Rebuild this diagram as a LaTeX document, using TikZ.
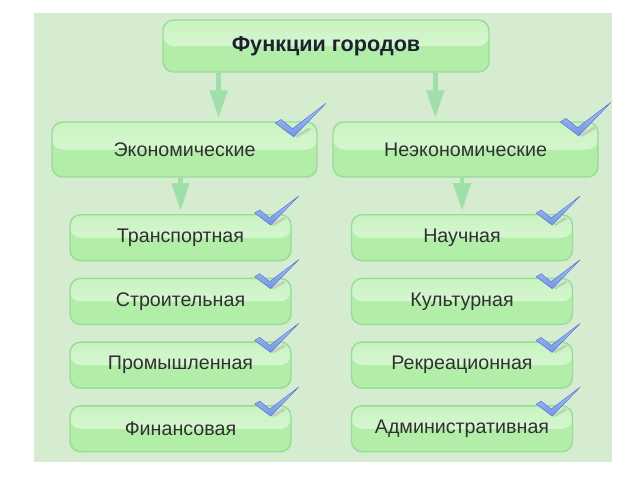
\documentclass[tikz,border=0pt]{standalone}
\usepackage{fontspec}
\setmainfont{Liberation Sans}
\usepackage{tikz}
\usetikzlibrary{arrows.meta,calc}
\definecolor{bgc}{HTML}{D5ECD1}
\definecolor{boxlow}{HTML}{B2EEA8}
\definecolor{boxhi}{HTML}{E4FAE0}
\definecolor{boxtopc}{HTML}{C8F3C0}
\definecolor{boxedge}{HTML}{9ADB98}
\definecolor{arrc}{HTML}{A0DEAA}
\definecolor{txt}{HTML}{303030}
\definecolor{ttl}{HTML}{1C2230}
\definecolor{tickhi}{HTML}{B0C8F8}
\definecolor{ticklo}{HTML}{7494E6}
\definecolor{tickedge}{HTML}{5878D4}
\tikzset{
	tick/.pic={
		\fill[black!30,opacity=0.5] (1,2) -- (13,-5) -- (15,-3) -- (3,4) -- cycle;
		\shade[top color=tickhi,bottom color=ticklo,draw=tickedge,line width=0.3pt]
		(-16,-9) -- (-11,-12) -- (-1,-4) -- (28,-26) -- (0,3) -- cycle;
	}
}

\begin{document}
\begin{tikzpicture}
	[x=0.02cm,y=-0.02cm,
	bx/.style={draw=boxedge,line width=0.8pt,rounded corners=6pt,fill=boxlow,text=txt,
		path picture={\fill[top color=boxtopc,bottom color=boxhi] (path picture bounding box.north west) rectangle (path picture bounding box.east);}},
	lone/.style={bx,minimum width=5.3cm,minimum height=1.1cm},
	ltwo/.style={bx,minimum width=4.42cm,minimum height=0.92cm},
	arr/.style={draw=arrc,line width=2.8pt,-{Triangle[width=0.34cm,length=0.56cm]},shorten >=0.06cm},
	font=\fontsize{11.2}{13}\selectfont]
	\useasboundingbox (0,0) rectangle (640,480);
	\fill[bgc] (34,13) rectangle (612,462);
	%LEVEL 0
	\node[bx,minimum width=6.52cm,minimum height=1.04cm,text=ttl,font=\fontsize{12.3}{14}\selectfont\bfseries] (f0) at (326,46) {Функции городов};
	%LEVEL 1
	\node[lone] (e0) at (184.5,149.5) {Экономические};
	\node[lone] (n0) at (465.5,149.5) {Неэкономические};
	\coordinate (t1) at ($(f0.south west)!0.172!(f0.south east)$);
	\coordinate (t2) at ($(f0.south west)!0.834!(f0.south east)$);
	\draw[arr] (t1) -- (t1 |- e0.north);
	\draw[arr] (t2) -- (t2 |- n0.north);
	\pic[scale=1.15] at ([shift={(-24,12)}]e0.north east) {tick};
	\pic[scale=1.15] at ([shift={(-20,11)}]n0.north east) {tick};
	%LEVEL 2
	\foreach \t [count=\i] in {Транспортная,Строительная,Промышленная,Финансовая}
	\node[ltwo] (e\i) at (180.5,{174+63.7*\i}) {\t};
	\foreach \t [count=\i] in {Научная,Культурная,Рекреационная,Административная}
	\node[ltwo] (n\i) at (462,{174+63.7*\i}) {\t};
	\draw[arr] (e1.north |- e0.south) -- (e1.north);
	\draw[arr] (n1.north |- n0.south) -- (n1.north);
	\foreach \i in {1,...,4}
	{
		\pic at ([shift={(-21,8)}]e\i.north east) {tick};
		\pic at ([shift={(-21,8)}]n\i.north east) {tick};
	};
\end{tikzpicture}
\end{document}
